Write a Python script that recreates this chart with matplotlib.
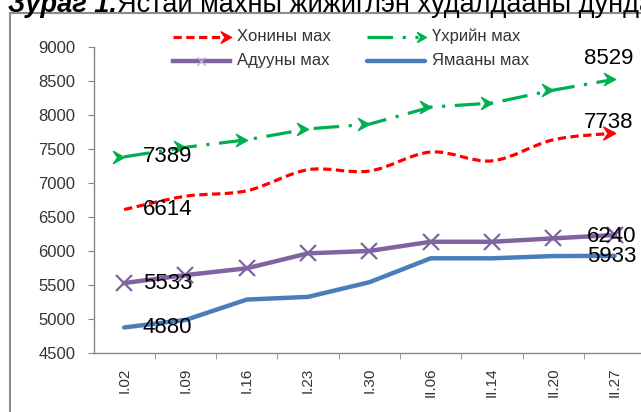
import matplotlib
matplotlib.use("Agg")
import matplotlib.pyplot as plt
import numpy as np
from matplotlib.lines import Line2D
from matplotlib.path import Path
from matplotlib.patches import PathPatch, Rectangle

plt.rcParams["font.family"] = ["Liberation Sans", "DejaVu Sans"]

weeks = ["I.02", "I.09", "I.16", "I.23", "I.30", "II.06", "II.14", "II.20", "II.27"]
sheep = [6614, 6810, 6890, 7200, 7180, 7460, 7330, 7640, 7738]
beef = [7389, 7530, 7640, 7800, 7870, 8120, 8180, 8370, 8529]
horse = [5533, 5650, 5750, 5970, 6005, 6140, 6140, 6190, 6240]
goat = [4880, 4990, 5290, 5330, 5545, 5897, 5897, 5930, 5933]
names = ["Хонины мах", "Үхрийн мах", "Адууны мах", "Ямааны мах"]

RED, GREEN, PURPLE, BLUE = "#FF0000", "#00B050", "#8064A2", "#4A7EBB"
GRAY, TXT = "#868686", "#333333"
W, H = 641, 412


def fx(px):
    return px / W


def fy(py):
    return 1 - py / H


# arrowhead with its tip at the origin
ARROW = Path([(0, 0), (-1, 0.55), (-0.62, 0), (-1, -0.55), (0, 0)],
             [Path.MOVETO, Path.LINETO, Path.LINETO, Path.LINETO, Path.CLOSEPOLY])


def smooth_path(xs, ys):
    # catmull-rom through the points as cubic beziers (excel "smoothed line")
    p = np.column_stack([xs, ys]).astype(float)
    pad = np.vstack([p[0], p, p[-1]])
    verts, codes = [p[0]], [Path.MOVETO]
    for i in range(len(p) - 1):
        p0, p1, p2, p3 = pad[i], pad[i + 1], pad[i + 2], pad[i + 3]
        verts += [p1 + (p2 - p0) / 6, p2 - (p3 - p1) / 6, p2]
        codes += [Path.CURVE4] * 3
    return Path(verts, codes)


fig = plt.figure(figsize=(W / 100, H / 100), dpi=100)
ax = fig.add_axes([fx(93.5), fy(353.3), (645.2 - 93.5) / W, (353.3 - 47.3) / H])
x = np.arange(len(weeks))

red_ls = (0, (2.6, 1.4))
ax.add_patch(PathPatch(smooth_path(x, sheep), fill=False, ec=RED, lw=2.3,
                       ls=red_ls, capstyle="butt", zorder=3))
ax.plot(x[-1:], sheep[-1:], ls="none", marker=ARROW, ms=17, color=RED, zorder=3)

ax.plot(x, beef, color=GREEN, lw=2.3, dashes=(8, 3, 1, 3), marker=ARROW, ms=16,
        mfc=GREEN, mec=GREEN, zorder=3)
ax.plot(x, horse, color=PURPLE, lw=3.2, marker="x", ms=11, mew=1.6,
        solid_joinstyle="round", zorder=3)
ax.plot(x, goat, color=BLUE, lw=3.2, solid_joinstyle="round", solid_capstyle="round",
        zorder=2)

# first-point labels, right of the point
for s in (sheep, beef, horse, goat):
    ax.annotate(str(s[0]), (x[0], s[0]), xytext=(13.5, 0), textcoords="offset points",
                ha="left", va="center", fontsize=16, color="black", zorder=5)
# last-point labels
for s, off in ((beef, (-4, 15)), (sheep, (-4, 7.5)), (horse, (-2, -1)), (goat, (-2, -0.5))):
    ax.annotate(str(s[-1]), (x[-1], s[-1]), xytext=off, textcoords="offset points",
                ha="center", va="center", fontsize=16, color="black", zorder=5,
                annotation_clip=False)

ax.set_xlim(-0.5, 8.5)
ax.set_ylim(4500, 9000)
ax.set_yticks(range(4500, 9001, 500))
ax.set_xticks(x)
ax.set_xticklabels(weeks, rotation=90)
ax.set_xticks(x[:-1] + 0.5, minor=True)
ax.tick_params(axis="x", which="major", length=0, pad=10, labelsize=11, labelcolor=TXT)
ax.tick_params(axis="x", which="minor", length=4, color=GRAY, direction="out")
ax.tick_params(axis="y", length=4, color=GRAY, pad=9, labelsize=12, labelcolor=TXT)
for side in ("top", "right"):
    ax.spines[side].set_visible(False)
for side in ("left", "bottom"):
    ax.spines[side].set_color(GRAY)
    ax.spines[side].set_linewidth(1)

# legend, drawn by hand (arrow-ended lines)
tf = fig.transFigure
r1, r2 = 36.7, 60.5
fig.add_artist(Line2D([fx(173), fx(224)], [fy(r1)] * 2, transform=tf, color=RED, lw=2.3, ls=red_ls))
fig.add_artist(Line2D([fx(231)], [fy(r1)], transform=tf, ls="none", marker=ARROW, ms=15, color=RED))
fig.add_artist(Line2D([fx(367), fx(418)], [fy(r1)] * 2, transform=tf, color=GREEN, lw=2.3,
                      dashes=(8, 3, 1, 3)))
fig.add_artist(Line2D([fx(426)], [fy(r1)], transform=tf, ls="none", marker=ARROW, ms=13, color=GREEN))
fig.add_artist(Line2D([fx(173), fx(230)], [fy(r2)] * 2, transform=tf, color=PURPLE, lw=3.2))
fig.add_artist(Line2D([fx(201)], [fy(r2)], transform=tf, ls="none", marker="x", ms=6,
                      mew=1, color="#b9a9cf"))
fig.add_artist(Line2D([fx(367), fx(425)], [fy(r2)] * 2, transform=tf, color=BLUE, lw=3.2,
                      solid_capstyle="round"))
for (px, py), name in zip([(237, r1), (432, r1), (237, r2), (432, r2)], names):
    fig.text(fx(px), fy(py), name, fontsize=12, color=TXT, ha="left", va="center")

# outer chart frame (runs off the right and bottom edge)
fig.add_artist(Rectangle((fx(10), -0.1), 1.2, fy(13.5) + 0.1, transform=tf,
                         fill=False, ec="#8c8c8c", lw=1.5))

# caption; in the source picture only its lower part is inside the crop
t1 = fig.text(fx(8), fy(11.5), "Зураг 1.", fontsize=19.5, weight="bold", style="italic",
              va="baseline")
bb = t1.get_window_extent(fig.canvas.get_renderer())
fig.text(bb.x1 / W, fy(11.5), "Ястай махны жижиглэн худалдааны дундаж үнэ", fontsize=19.5,
         va="baseline")

fig.savefig("out.png", dpi=100)
